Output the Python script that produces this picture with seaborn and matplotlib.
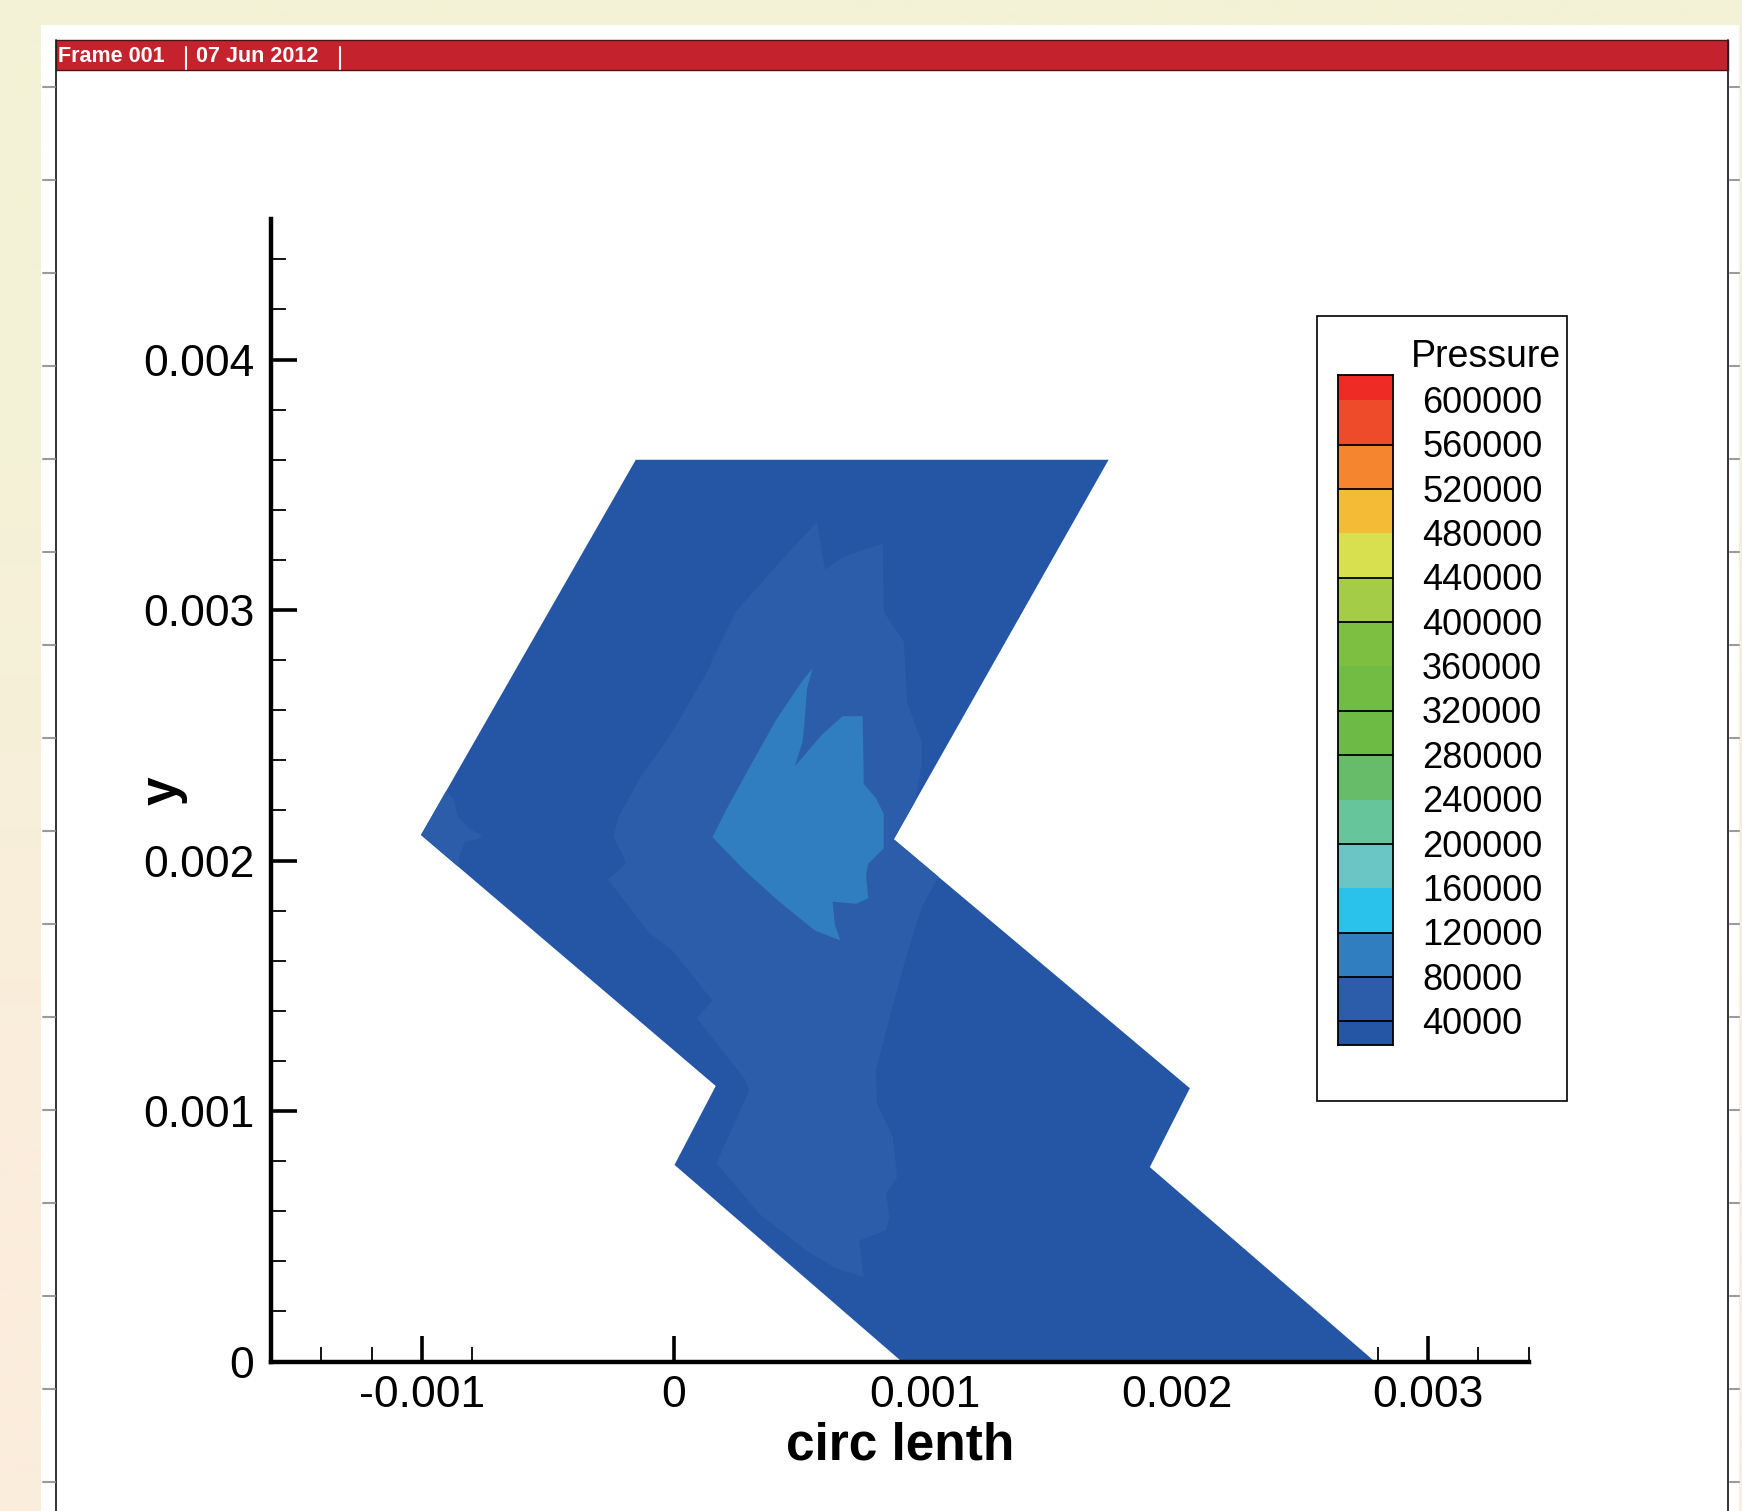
import numpy as np
import matplotlib
matplotlib.use("Agg")
import matplotlib.pyplot as plt
from matplotlib.patches import Rectangle
from matplotlib.lines import Line2D
from matplotlib.colors import ListedColormap, to_rgb
from matplotlib.transforms import blended_transform_factory
import seaborn as sns

sns.set_style("white")
plt.rcParams['font.family'] = ['Liberation Sans', 'DejaVu Sans']

# contour regions, in mm (converted to m below)
MM = 1e-3
domain_x = [-0.150, 1.730, 0.876, 2.053, 1.894, 2.788, 0.907, 0.004, 0.168, -1.004]
domain_y = [3.600, 3.600, 2.085, 1.091, 0.776, 0.0, 0.0, 0.785, 1.100, 2.102]

# 40000-80000 band
mid_x = [0.5708, 0.6018, 0.6726, 0.7434, 0.8319, 0.8363, 0.9159, 0.9292, 0.9867, 0.9867,
         0.955, 0.90, 1.06, 0.9867, 0.9248, 0.8628, 0.8053, 0.8097, 0.8717, 0.8894,
         0.8451, 0.8584, 0.8451, 0.7389, 0.7566, 0.6460, 0.5265, 0.3407, 0.1726, 0.1814,
         0.3009, 0.2876, 0.0929, 0.1549, -0.0044, -0.0973, -0.2611, -0.1903, -0.1991, -0.2389,
         -0.2212, -0.1372, -0.0177, 0.1239, 0.2478, 0.4115]
mid_y = [3.3525, 3.1619, 3.2106, 3.2373, 3.2639, 2.9933, 2.8736, 2.6297, 2.4745, 2.3858,
         2.1996, 2.085, 1.945, 1.8137, 1.6142, 1.3880, 1.1619, 1.0288, 0.8958, 0.7361,
         0.6696, 0.5765, 0.5233, 0.4834, 0.3370, 0.3725, 0.4435, 0.5898, 0.7894, 0.8160,
         1.0820, 1.1220, 1.3703, 1.4412, 1.6408, 1.7118, 1.9246, 1.9867, 2.0177, 2.0931,
         2.1685, 2.3237, 2.4922, 2.7361, 2.9933, 3.1796]

# small 40000-80000 patch at the left tip
tip_x = [-1.06, -0.93, -0.8717, -0.8584, -0.8142, -0.7655, -0.7655, -0.8274, -0.8496, -0.86]
tip_y = [2.102, 2.31, 2.2395, 2.1774, 2.1286, 2.1020, 2.0887, 2.0754, 2.0266, 1.94]

# 80000-120000 band
inner_x = [0.5531, 0.5310, 0.5221, 0.5133, 0.4823, 0.5133, 0.5929, 0.6726, 0.7522, 0.7566,
           0.8053, 0.8363, 0.8363, 0.7743, 0.7655, 0.7743, 0.7257, 0.6327, 0.6416, 0.6637,
           0.5619, 0.4204, 0.2876, 0.1549, 0.2080, 0.3097, 0.4115, 0.5133]
inner_y = [2.7672, 2.6874, 2.5676, 2.4745, 2.3769, 2.4124, 2.5055, 2.5765, 2.5765, 2.3060,
           2.2483, 2.1863, 2.0488, 1.9867, 1.9424, 1.8492, 1.8271, 1.8359, 1.7428, 1.6807,
           1.7206, 1.8359, 1.9557, 2.0931, 2.1996, 2.3858, 2.5676, 2.7184]

# legend
band_values = [600000, 560000, 520000, 480000, 440000, 400000, 360000, 320000,
               280000, 240000, 200000, 160000, 120000, 80000, 40000, 0]
band_colors = ["#EE2B25", "#EE4B2B", "#F5862F", "#F4BB37", "#D9E04F", "#A5CC47",
               "#7DC041", "#72BC44", "#6DBA44", "#67BC6A", "#67C59B", "#69C6C4",
               "#2AC1EA", "#307DC0", "#2C5DAB", "#2556A5"]
legend_levels = band_values[:-1]
ruled_levels = [560000, 520000, 440000, 400000, 320000, 280000, 200000, 120000, 80000, 40000]

xmajor = [-0.001, 0, 0.001, 0.002, 0.003]
xmajor_labels = ["-0.001", "0", "0.001", "0.002", "0.003"]
xminor = [-0.0014, -0.0012, -0.0008, 0.0012, 0.0014, 0.0016, 0.0018,
          0.0022, 0.0024, 0.0026, 0.0028, 0.0032, 0.0034]
ymajor = [0, 0.001, 0.002, 0.003, 0.004]
ymajor_labels = ["0", "0.001", "0.002", "0.003", "0.004"]
yminor = [0.0002, 0.0004, 0.0006, 0.0008, 0.0012, 0.0014, 0.0016, 0.0018,
          0.0022, 0.0024, 0.0026, 0.0028, 0.0032, 0.0034, 0.0036, 0.0038,
          0.0042, 0.0044]

W, H = 1742, 1511
fig = plt.figure(figsize=(W / 100, H / 100), dpi=100)


def fx(px):
    return px / W


def fy(py):
    return 1 - py / H


def box(x0, y0, x1, y1):
    return [fx(x0), fy(y1), fx(x1) - fx(x0), fy(y0) - fy(y1)]


# workspace background
bg = fig.add_axes([0, 0, 1, 1], zorder=-10)
grad = np.array([[to_rgb("#F3F2D6")], [to_rgb("#FBEDDC")]])
bg.imshow(grad, aspect="auto", extent=[0, 1, 0, 1], interpolation="bilinear")
bg.set_axis_off()

fig.add_artist(Rectangle((fx(41), fy(1511)), fx(1739) - fx(41), fy(25) - fy(1511),
                         transform=fig.transFigure, facecolor="white", edgecolor="none", zorder=-5))
fig.add_artist(Rectangle((fx(56), fy(70)), fx(1728) - fx(56), fy(40) - fy(70),
                         transform=fig.transFigure, facecolor="#C4232D", edgecolor="#4a1416",
                         lw=1, zorder=-4))
for xx in [56, 1728]:
    fig.add_artist(Line2D([fx(xx), fx(xx)], [fy(40), fy(1511)], transform=fig.transFigure,
                          color="#222222", lw=1.3, zorder=-3))
for k in range(16):
    yy = fy(87 + 93 * k)
    for x0, x1 in [(43, 55), (1730, 1739)]:
        fig.add_artist(Line2D([fx(x0), fx(x1)], [yy, yy], transform=fig.transFigure,
                              color="#9a9a9a", lw=1.5, zorder=-3))

fig.text(fx(58), fy(57), "Frame 001", color="white", fontsize=15.5, fontweight="bold", va="center")
fig.text(fx(196), fy(57), "07 Jun 2012", color="white", fontsize=15.5, fontweight="bold", va="center")
for xx in [186, 340]:
    fig.add_artist(Line2D([fx(xx), fx(xx)], [fy(47), fy(69)], transform=fig.transFigure,
                          color="white", lw=1.5, zorder=2))

# main plot
ax = fig.add_axes(box(271.1, 219.3, 1528.6, 1361.5))
ax.patch.set_visible(False)
dom = ax.fill(np.array(domain_x) * MM, np.array(domain_y) * MM,
              color=band_colors[-1], lw=0, zorder=1)[0]
for xs, ys, col in [(mid_x, mid_y, band_colors[-2]),
                    (tip_x, tip_y, band_colors[-2]),
                    (inner_x, inner_y, band_colors[-3])]:
    p = ax.fill(np.array(xs) * MM, np.array(ys) * MM, color=col, lw=0, zorder=1.1)[0]
    p.set_clip_path(dom)

ax.set_xlim(-0.0016, 0.0034)
ax.set_ylim(0, 0.00456)
ax.spines[["top", "right"]].set_visible(False)
for s in ["left", "bottom"]:
    ax.spines[s].set_linewidth(3.2)
    ax.spines[s].set_color("black")

ax.set_xticks(xmajor)
ax.set_xticklabels(xmajor_labels)
ax.set_xticks(xminor, minor=True)
ax.set_yticks(ymajor)
ax.set_yticklabels(ymajor_labels)
ax.set_yticks(yminor, minor=True)
ax.tick_params(which="both", direction="in", bottom=True, left=True, color="black")
ax.tick_params(which="major", length=19, width=2.6, labelsize=32, labelcolor="black")
ax.tick_params(which="minor", length=11, width=1.3)
ax.tick_params(axis="x", which="major", pad=10)
ax.tick_params(axis="y", which="major", pad=12)

ax.set_xlabel("circ lenth", fontsize=37, fontweight="bold", color="black", va="baseline")
ax.xaxis.set_label_coords(0.5, -(1459 - 1361.5) / 1142.2)
ax.set_ylabel("y", fontsize=37, fontweight="bold", color="black", va="center")
ax.yaxis.set_label_coords((163 - 271.1) / 1257.5, 0.5)

# contour legend
fig.add_artist(Rectangle((fx(1316.5), fy(1101)), fx(1566.5) - fx(1316.5), fy(315.5) - fy(1101),
                         transform=fig.transFigure, facecolor="white", edgecolor="black",
                         lw=1.2, zorder=2))
bar_ax = fig.add_axes(box(1338, 374.5, 1393, 1044.5), zorder=3)
sns.heatmap(np.array(band_values).reshape(-1, 1), ax=bar_ax,
            cmap=ListedColormap(band_colors[::-1]), vmin=-20000, vmax=620000,
            cbar=False, xticklabels=False, yticklabels=False)
bar_ax.set_ylim(len(band_values) - 0.48, 0.42)
bar_ax.hlines([band_values.index(L) + 1 for L in ruled_levels], 0, 1, colors="black", lw=1.3)
for s in bar_ax.spines.values():
    s.set_visible(True)
    s.set_color("black")
    s.set_linewidth(1.3)
bar_ax.set_xlabel("")
bar_ax.set_ylabel("")

trans = blended_transform_factory(bar_ax.transAxes, bar_ax.transData)
for L in legend_levels:
    bar_ax.text((1422 - 1338) / 55, band_values.index(L) + 1.07, str(L), transform=trans,
                fontsize=26, va="center", ha="left", color="black", clip_on=False)
fig.text(fx(1411), fy(357), "Pressure", fontsize=27, va="center", color="black", zorder=4)

fig.savefig("out.png", dpi=100)
